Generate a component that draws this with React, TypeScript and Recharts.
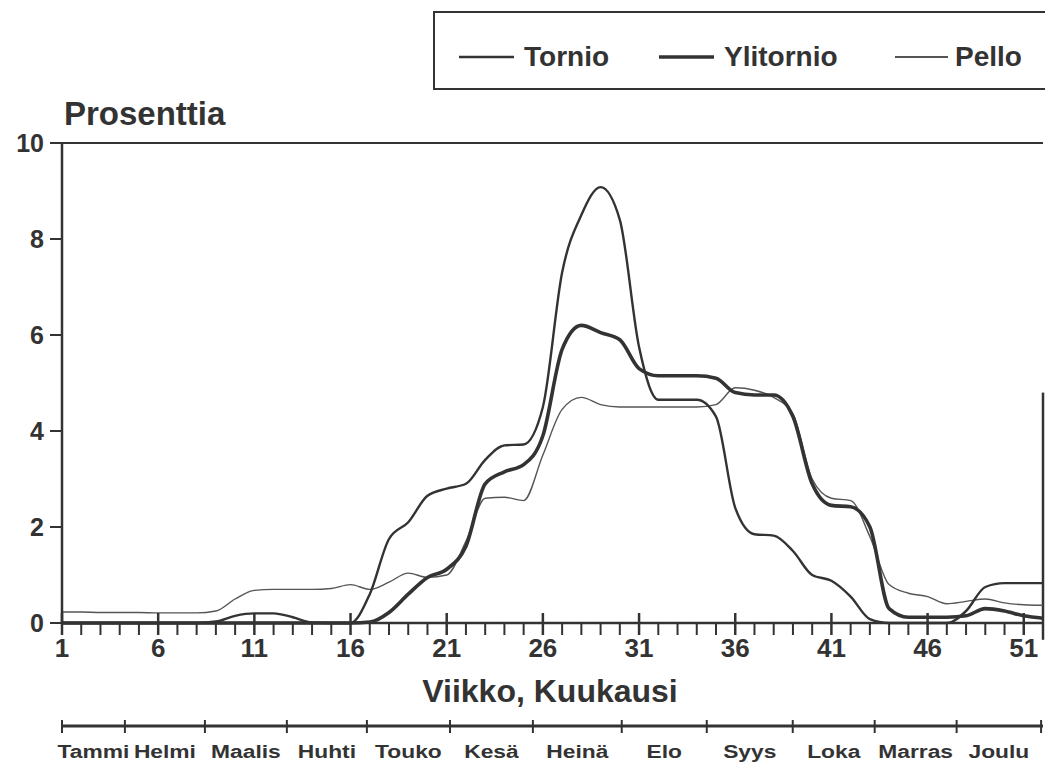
import React from 'react';
import { LineChart, Line, XAxis, YAxis, ReferenceLine } from 'recharts';

const weeks = [1, 2, 3, 4, 5, 6, 7, 8, 9, 10, 11, 12, 13, 14, 15, 16, 17, 18, 19, 20, 21, 22, 23, 24, 25, 26,
  27, 28, 29, 30, 31, 32, 33, 34, 35, 36, 37, 38, 39, 40, 41, 42, 43, 44, 45, 46, 47, 48, 49, 50, 51, 52];

const tornio = [0, 0, 0, 0, 0, 0, 0, 0, 0.03, 0.15, 0.2, 0.2, 0.12, 0.01, 0, 0, 0.6, 1.75, 2.1, 2.65, 2.8, 2.9,
  3.4, 3.7, 3.72, 4.5, 7.3, 8.5, 9.08, 8.4, 5.75, 4.65, 4.65, 4.65, 4.3, 2.4, 1.85, 1.82, 1.5, 1.0, 0.88, 0.55,
  0.08, 0, 0, 0, 0, 0.25, 0.75, 0.83, 0.83, 0.83];

const ylitornio = [0, 0, 0, 0, 0, 0, 0, 0, 0, 0, 0, 0, 0, 0, 0, 0, 0.02, 0.22, 0.6, 0.95, 1.12, 1.6, 2.9, 3.15,
  3.3, 3.9, 5.7, 6.2, 6.05, 5.9, 5.3, 5.15, 5.15, 5.15, 5.1, 4.8, 4.75, 4.75, 4.3, 2.9, 2.45, 2.42, 2.0, 0.3,
  0.12, 0.12, 0.12, 0.15, 0.3, 0.25, 0.15, 0.1];

const pello = [0.23, 0.23, 0.22, 0.22, 0.22, 0.21, 0.21, 0.21, 0.25, 0.5, 0.68, 0.7, 0.7, 0.7, 0.72, 0.8, 0.7,
  0.85, 1.04, 0.95, 1.0, 1.7, 2.6, 2.62, 2.55, 3.5, 4.45, 4.7, 4.55, 4.5, 4.5, 4.5, 4.5, 4.5, 4.55, 4.9, 4.85,
  4.7, 4.35, 3.0, 2.6, 2.55, 1.8, 0.8, 0.62, 0.55, 0.4, 0.45, 0.5, 0.42, 0.38, 0.37];

const weekLabels = [1, 6, 11, 16, 21, 26, 31, 36, 41, 46, 51];
const yTicks = [0, 2, 4, 6, 8, 10];
const months = ['Tammi', 'Helmi', 'Maalis', 'Huhti', 'Touko', 'Kesä', 'Heinä', 'Elo', 'Syys', 'Loka', 'Marras', 'Joulu'];
const monthBounds = [1, 4.27, 8.43, 12.69, 16.85, 21.17, 25.48, 30.1, 34.52, 38.99, 43.25, 47.51, 51.9];

const seriesNames = ['Tornio', 'Ylitornio', 'Pello'];

const data = weeks.map((w, i) => ({ week: w, tornio: tornio[i], ylitornio: ylitornio[i], pello: pello[i] }));
const monthMids = months.map((_, i) => (monthBounds[i] + monthBounds[i + 1]) / 2);
const monthTicks = [...monthBounds, ...monthMids];

const INK = '#333';
const FONT = '"Liberation Sans", Arial, Helvetica, sans-serif';

const WeekTick = (props: any) => {
  const { x, y, payload } = props;
  const v = payload.value;
  const major = weekLabels.includes(v);
  return (
    <g>
      <line x1={x} x2={x} y1={major ? y - 10 : y} y2={y + 12} stroke={INK} strokeWidth={major ? 2.5 : 2} />
      {major && (
        <text x={x} y={y + 34} textAnchor="middle" fontSize={26} fontWeight="bold" fill={INK} fontFamily={FONT}>
          {v}
        </text>
      )}
    </g>
  );
};

const MonthTick = (props: any) => {
  const { x, y, payload } = props;
  const v = payload.value;
  const bi = monthBounds.indexOf(v);
  if (bi >= 0) {
    return <line x1={x} x2={x} y1={y - 6} y2={y + 7} stroke={INK} strokeWidth={2} />;
  }
  const mi = monthMids.indexOf(v);
  return (
    <text
      transform={`translate(${x},${y + 32}) scale(1.2,1)`}
      textAnchor="middle"
      fontSize={19}
      fontWeight="bold"
      fill={INK}
      fontFamily={FONT}
    >
      {months[mi]}
    </text>
  );
};

const YTick = (props: any) => {
  const { x, y, payload } = props;
  return (
    <text x={x} y={y + 9} textAnchor="end" fontSize={25} fontWeight="bold" fill={INK} fontFamily={FONT}>
      {payload.value}
    </text>
  );
};

export default function App() {
  return (
    <div style={{ position: 'absolute', left: 0, top: 0, width: 1045, height: 768, background: '#fff', overflow: 'hidden' }}>
      <LineChart width={1045} height={768} data={data} margin={{ top: 143, right: 2, bottom: 0, left: 0 }}>
        <XAxis
          dataKey="week"
          type="number"
          domain={[1, 52]}
          ticks={weeks}
          interval={0}
          tick={<WeekTick />}
          tickLine={false}
          tickSize={0}
          tickMargin={0}
          axisLine={{ stroke: INK, strokeWidth: 2.5 }}
          height={103}
        />
        <XAxis
          xAxisId="m"
          dataKey="week"
          type="number"
          domain={[1, 52]}
          allowDataOverflow
          ticks={monthTicks}
          interval={0}
          tick={<MonthTick />}
          tickLine={false}
          tickSize={0}
          tickMargin={0}
          axisLine={{ stroke: INK, strokeWidth: 3 }}
          height={42}
        />
        <YAxis
          type="number"
          domain={[0, 10]}
          ticks={yTicks}
          interval={0}
          width={62}
          tickSize={12}
          tickMargin={6}
          tick={<YTick />}
          tickLine={{ stroke: INK, strokeWidth: 2 }}
          axisLine={{ stroke: INK, strokeWidth: 2.5 }}
        />
        <ReferenceLine y={10} stroke={INK} strokeWidth={2} ifOverflow="visible" />
        <ReferenceLine
          segment={[{ x: 52, y: -0.35 }, { x: 52, y: 4.8 }]}
          stroke={INK}
          strokeWidth={2.5}
          ifOverflow="visible"
        />
        <Line type="monotone" dataKey="pello" name={seriesNames[2]} stroke="#555" strokeWidth={1.4} dot={false} isAnimationActive={false} />
        <Line type="monotone" dataKey="ylitornio" name={seriesNames[1]} stroke={INK} strokeWidth={3.6} dot={false} isAnimationActive={false} />
        <Line type="monotone" dataKey="tornio" name={seriesNames[0]} stroke={INK} strokeWidth={2.4} dot={false} isAnimationActive={false} />
      </LineChart>
      <svg width={1045} height={768} style={{ position: 'absolute', left: 0, top: 0, pointerEvents: 'none' }}>
        <rect x={434} y={12} width={640} height={77} fill="none" stroke={INK} strokeWidth={2} />
        <line x1={459} x2={514} y1={57} y2={57} stroke={INK} strokeWidth={2.4} />
        <text x={524} y={66} fontSize={28} fontWeight="bold" fill={INK} fontFamily={FONT}>{seriesNames[0]}</text>
        <line x1={659} x2={714} y1={57} y2={57} stroke={INK} strokeWidth={3.6} />
        <text x={724} y={66} fontSize={28} fontWeight="bold" fill={INK} fontFamily={FONT}>{seriesNames[1]}</text>
        <line x1={895} x2={948} y1={57} y2={57} stroke="#555" strokeWidth={1.8} />
        <text x={955} y={66} fontSize={28} fontWeight="bold" fill={INK} fontFamily={FONT}>{seriesNames[2]}</text>
        <text x={64} y={125} fontSize={33} fontWeight="bold" fill={INK} fontFamily={FONT}>Prosenttia</text>
        <text x={550} y={702} textAnchor="middle" fontSize={32} fontWeight="bold" fill={INK} fontFamily={FONT}>Viikko, Kuukausi</text>
      </svg>
    </div>
  );
}
